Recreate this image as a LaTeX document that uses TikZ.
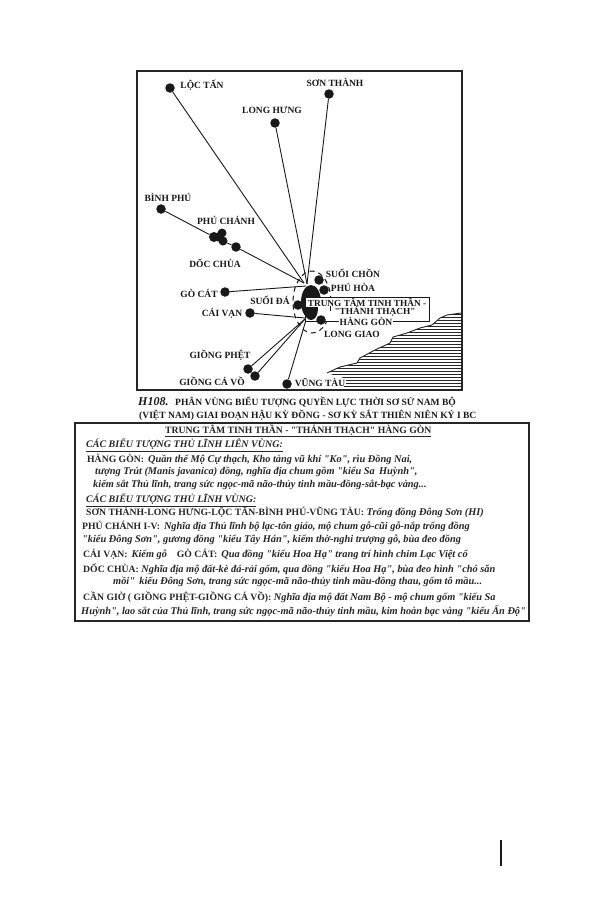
\documentclass[tikz,border=0pt]{standalone}
\usepackage{fontspec}
\setmainfont[Ligatures=TeXOff]{Liberation Serif}
\tikzset{
    dot/.style={circle, fill=black!90, inner sep=0, minimum size=9.5},
    place/.style={inner sep=0, font=\fontsize{9.5}{11}\selectfont\bfseries, text=black!90},
    spoke/.style={black!90, line width=0.9},
    frame/.style={black!85, line width=2.8},
    capline/.style={anchor=west, inner sep=0, font=\fontsize{9.55}{11}\selectfont\bfseries, text=black!90},
    noteline/.style={anchor=west, inner sep=0, font=\fontsize{9.7}{11}\selectfont\bfseries, text=black!85}
}
\newcommand{\iz}[1]{{\fontsize{10.35}{11}\selectfont\itshape #1}}
\newcommand{\hz}[1]{{\fontsize{10}{11}\selectfont\itshape\underline{#1}}}
\begin{document}
\begin{tikzpicture}[x=1pt, y=-1pt]
            \useasboundingbox (0, 0) rectangle (605, 907);
            \draw[frame, fill=white] (137, 71) rectangle (462, 390);
            \begin{scope}
                \clip (327, 373)--(340, 367)--(357, 363)--(360, 358)--(375, 350)--(390, 343)--(393, 337)--(407, 333)--(420, 328)--(432, 325)--(440, 318)--(447, 315)--(461, 313)--(461, 389)--(344, 389)--(344, 378)--cycle;
                \foreach \y in {314, 317, ..., 389} {
                    \draw[black!85, line width=0.8] (320, \y)--(461, \y);
                }
            \end{scope}
            \draw[black!85, line width=0.9] (327, 373)--(340, 367)--(357, 363)--(360, 358)--(375, 350)--(390, 343)--(393, 337)--(407, 333)--(420, 328)--(432, 325)--(440, 318)--(447, 315)--(461, 313);
            \draw[black!90, line width=1, dash pattern=on 5 off 4] (312, 302) ellipse (19 and 31);
            \coordinate (hubA) at (304, 283);
            \coordinate (hubB) at (307, 284);
            \coordinate (hubC) at (306, 286);
            \coordinate (hubD) at (305, 318);
            \coordinate (hubE) at (305, 319);
            \coordinate (hubF) at (306, 320);
            \node[dot] (locTan) at (170, 88) {};
            \node[dot] (sonThanh) at (329, 94) {};
            \node[dot] (longHung) at (275, 123) {};
            \node[dot] (binhPhu) at (161, 209) {};
            \node[dot, minimum size=10] (phuChanhA) at (214, 237) {};
            \node[dot, minimum size=9] (phuChanhB) at (222, 233) {};
            \node[dot, minimum size=9] (phuChanhC) at (223, 241) {};
            \node[dot, minimum size=9] (phuChanhD) at (218, 237) {};
            \node[dot] (docChua) at (236, 247) {};
            \node[dot] (goCat) at (225, 292) {};
            \node[dot] (caiVan) at (250, 313) {};
            \node[dot] (giongPhet) at (248, 369) {};
            \node[dot] (giongCaVo) at (255, 376) {};
            \node[dot] (vungTau) at (287, 384) {};
            \draw[spoke] (locTan)--(hubA);
            \draw[spoke] (longHung)--(hubB);
            \draw[spoke] (sonThanh)--(hubB);
            \draw[spoke] (binhPhu)--(phuChanhA);
            \draw[spoke] (phuChanhC)--(docChua);
            \draw[spoke] (docChua)--(hubA);
            \draw[spoke] (goCat)--(hubC);
            \draw[spoke] (caiVan)--(hubD);
            \draw[spoke] (giongPhet)--(hubE);
            \draw[spoke] (giongCaVo)--(hubE);
            \draw[spoke] (vungTau)--(hubF);
            \fill[black!90] (311, 302) ellipse (10 and 17);
            \node[dot] (suoiChon) at (319, 280) {};
            \node[dot] (phuHoa) at (324, 290) {};
            \node[draw=black!90, fill=white, line width=0.9, minimum width=124, minimum height=24, inner sep=0] (tamBox) at (367, 309) {};
            \fill[black!90] (304, 307) .. controls (304, 316) and (307, 320) .. (311, 320) .. controls (315, 320) and (318, 316) .. (318, 307) -- cycle;
            \node[dot] (suoiDa) at (298, 305) {};
            \node[dot] (hangGon) at (321, 320) {};
            \draw[black!90, line width=1] (330, 306)--(330, 311);
            \node[place, font=\fontsize{9.3}{11}\selectfont\bfseries] (tamA) at (367, 302) {TRUNG TÂM TINH THẦN -};
            \node[place, font=\fontsize{9.3}{11}\selectfont\bfseries] (tamB) at (375, 311) {"THÁNH THẠCH"};
            \node[place, fill=white, inner xsep=1] (lblHangGon) at (366, 321) {HÀNG GÒN};
            \node[place] (lblLocTan) at (202, 85) {LỘC TẤN};
            \node[place] (lblSonThanh) at (335, 82) {SƠN THÀNH};
            \node[place] (lblLongHung) at (272, 110) {LONG HƯNG};
            \node[place] (lblBinhPhu) at (168, 197) {BÌNH PHÚ};
            \node[place] (lblPhuChanh) at (226, 220) {PHÚ CHÁNH};
            \node[place] (lblDocChua) at (215, 263) {DỐC CHÙA};
            \node[place] (lblGoCat) at (199, 293) {GÒ CÁT};
            \node[place] (lblCaiVan) at (222, 313) {CÁI VẠN};
            \node[place] (lblSuoiDa) at (270, 300) {SUỐI ĐÁ};
            \node[place] (lblSuoiChon) at (353, 273) {SUỐI CHỒN};
            \node[place] (lblPhuHoa) at (353, 287) {PHÚ HÒA};
            \node[place] (lblLongGiao) at (352, 334) {LONG GIAO};
            \node[place] (lblGiongPhet) at (220, 355) {GIỒNG PHỆT};
            \node[place] (lblGiongCaVo) at (212, 381) {GIỒNG CÁ VỒ};
            \node[place, fill=white, inner xsep=1] (lblVungTau) at (320, 382) {VŨNG TÀU};
            \node[capline, font=\fontsize{12}{13}\selectfont\bfseries\itshape] (capNo) at (138, 402) {H108.};
            \node[capline] (capA) at (175, 402) {PHÂN VÙNG BIỂU TƯỢNG QUYỀN LỰC THỜI SƠ SỬ NAM BỘ};
            \node[capline] (capB) at (139, 415) {(VIỆT NAM) GIAI ĐOẠN HẬU KỲ ĐỒNG - SƠ KỲ SẮT THIÊN NIÊN KỶ I BC};
            \draw[frame, fill=white] (75, 423) rectangle (529, 621);
            \node[noteline] (noteTitle) at (165, 431) {\underline{TRUNG TÂM TINH THẦN - "THÁNH THẠCH" HÀNG GÒN}};
            \node[noteline] (noteA) at (86, 445) {\hz{CÁC BIỂU TƯỢNG THỦ LĨNH LIÊN VÙNG:}};
            \node[noteline] (noteB) at (87, 459) {HÀNG GÒN:\, \iz{Quần thể Mộ Cự thạch, Kho tàng vũ khí "Ko", rìu Đồng Nai,}};
            \node[noteline] (noteC) at (95, 472) {\iz{tượng Trút (Manis javanica) đồng, nghĩa địa chum gồm "kiểu Sa\, Huỳnh",}};
            \node[noteline] (noteD) at (93, 485) {\iz{kiếm sắt Thủ lĩnh, trang sức ngọc-mã não-thủy tinh mầu-đồng-sắt-bạc vàng...}};
            \node[noteline] (noteE) at (86, 500) {\hz{CÁC BIỂU TƯỢNG THỦ LĨNH VÙNG:}};
            \node[noteline] (noteF) at (86, 512) {SƠN THÀNH-LONG HƯNG-LỘC TẤN-BÌNH PHÚ-VŨNG TÀU: \iz{Trống đồng Đông Sơn (HI)}};
            \node[noteline] (noteG) at (82, 526) {PHÚ CHÁNH I-V:\, \iz{Nghĩa địa Thủ lĩnh bộ lạc-tôn giáo, mộ chum gỗ-cũi gỗ-nắp trống đồng}};
            \node[noteline] (noteH) at (82, 540) {\iz{"kiểu Đông Sơn", gương đồng "kiểu Tây Hán", kiếm thờ-nghi trượng gỗ, bùa đeo đồng}};
            \node[noteline] (noteI) at (83, 554) {CÁI VẠN:\, \iz{Kiếm gỗ}\quad GÒ CÁT:\, \iz{Qua đồng "kiểu Hoa Hạ" trang trí hình chim Lạc Việt cổ}};
            \node[noteline] (noteJ) at (83, 569) {DỐC CHÙA: \iz{Nghĩa địa mộ đất-kè đá-rải gốm, qua đồng "kiểu Hoa Hạ", bùa đeo hình "chó săn}};
            \node[noteline] (noteK) at (113, 582) {\iz{mồi"\, kiểu Đông Sơn, trang sức ngọc-mã não-thủy tinh mầu-đồng thau, gốm tô mầu...}};
            \node[noteline] (noteL) at (83, 597) {CẦN GIỜ ( GIỒNG PHỆT-GIỒNG CÁ VỒ): \iz{Nghĩa địa mộ đất Nam Bộ - mộ chum gốm "kiểu Sa}};
            \node[noteline] (noteM) at (81, 611) {\iz{Huỳnh", lao sắt của Thủ lĩnh, trang sức ngọc-mã não-thủy tinh mầu, kim hoàn bạc vàng "kiểu Ấn Độ"}};
            \draw[black!90, line width=2] (501, 840)--(501, 866);
\end{tikzpicture}
\end{document}
